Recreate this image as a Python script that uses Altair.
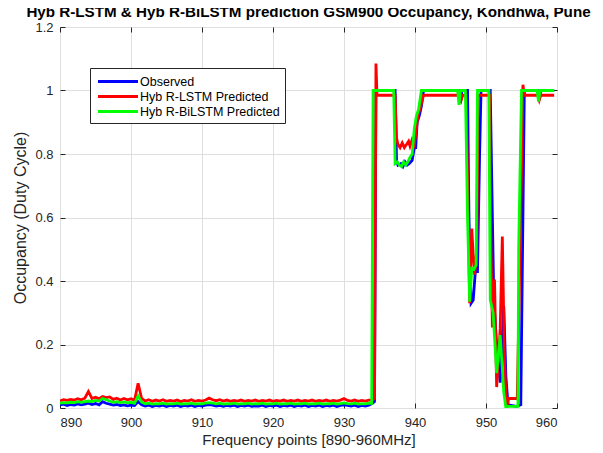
import altair as alt
import pandas as pd

series_names = ["Observed", "Hyb R-LSTM Predicted", "Hyb R-BiLSTM Predicted"]
series_colors = ["#0000FF", "#FF0000", "#00FF00"]

x_ticks = [890, 900, 910, 920, 930, 940, 950, 960]
y_ticks = [0, 0.2, 0.4, 0.6, 0.8, 1.0, 1.2]

# low-occupancy part, 890.0 .. 933.5 MHz every 0.5
low_freq = [round(890 + 0.5 * i, 1) for i in range(88)]

obs_low = [0.010, 0.012, 0.008, 0.011, 0.009, 0.013, 0.010, 0.012, 0.015, 0.011,
           0.014, 0.010, 0.020, 0.015, 0.012, 0.009, 0.011, 0.008, 0.010, 0.007,
           0.009, 0.008, 0.020, 0.010, 0.006, 0.009, 0.005, 0.008, 0.006, 0.009,
           0.005, 0.008, 0.006, 0.009, 0.005, 0.008, 0.006, 0.009, 0.005, 0.008,
           0.006, 0.009, 0.011, 0.009, 0.006, 0.008, 0.005, 0.008, 0.006, 0.009,
           0.005, 0.008, 0.006, 0.009, 0.005, 0.007, 0.006, 0.009, 0.005, 0.008,
           0.006, 0.009, 0.005, 0.008, 0.006, 0.009, 0.005, 0.008, 0.006, 0.009,
           0.005, 0.008, 0.006, 0.009, 0.005, 0.008, 0.006, 0.009, 0.005, 0.008,
           0.010, 0.008, 0.006, 0.009, 0.005, 0.008, 0.006, 0.009]

lstm_low = [0.022, 0.026, 0.024, 0.027, 0.025, 0.029, 0.026, 0.031, 0.052, 0.030,
            0.034, 0.029, 0.036, 0.033, 0.035, 0.027, 0.031, 0.025, 0.030, 0.026,
            0.029, 0.024, 0.078, 0.030, 0.022, 0.026, 0.021, 0.025, 0.022, 0.026,
            0.021, 0.024, 0.022, 0.025, 0.020, 0.024, 0.022, 0.026, 0.021, 0.024,
            0.022, 0.025, 0.031, 0.026, 0.023, 0.026, 0.022, 0.025, 0.021, 0.024,
            0.022, 0.025, 0.021, 0.024, 0.022, 0.025, 0.021, 0.024, 0.022, 0.025,
            0.021, 0.024, 0.022, 0.025, 0.021, 0.024, 0.022, 0.025, 0.021, 0.024,
            0.022, 0.025, 0.021, 0.024, 0.022, 0.025, 0.021, 0.024, 0.022, 0.025,
            0.030, 0.024, 0.022, 0.025, 0.021, 0.024, 0.022, 0.025]

bilstm_low = [0.015, 0.017, 0.016, 0.018, 0.017, 0.020, 0.018, 0.020, 0.022, 0.020,
              0.024, 0.022, 0.030, 0.026, 0.022, 0.018, 0.020, 0.017, 0.019, 0.016,
              0.018, 0.015, 0.038, 0.018, 0.013, 0.015, 0.012, 0.014, 0.013, 0.015,
              0.012, 0.014, 0.013, 0.015, 0.012, 0.014, 0.013, 0.015, 0.012, 0.014,
              0.013, 0.015, 0.017, 0.015, 0.013, 0.015, 0.012, 0.014, 0.013, 0.015,
              0.012, 0.014, 0.013, 0.015, 0.012, 0.014, 0.013, 0.015, 0.012, 0.014,
              0.013, 0.015, 0.012, 0.014, 0.013, 0.015, 0.012, 0.014, 0.013, 0.015,
              0.012, 0.014, 0.013, 0.015, 0.012, 0.014, 0.013, 0.015, 0.012, 0.014,
              0.016, 0.014, 0.013, 0.015, 0.012, 0.014, 0.013, 0.015]

# active part (934 .. 960 MHz)
obs_hi_freq = [934.0, 934.3, 934.5, 937.2, 937.4, 937.6, 938.0, 938.3, 938.6, 938.9,
               939.2, 939.6, 939.9, 940.1, 940.3, 940.6, 940.9, 941.2, 946.2, 946.4,
               946.6, 947.4, 947.6, 947.9, 948.2, 948.5, 948.8, 949.1, 949.3, 950.6,
               950.9, 951.1, 951.5, 952.0, 952.5, 952.8, 953.1, 954.3, 954.9, 955.4,
               957.3, 957.5, 957.7, 959.6]
obs_hi_val = [0.015, 0.020, 1.000, 1.000, 0.780, 0.765, 0.770, 0.760, 0.775, 0.765,
              0.770, 0.780, 0.820, 0.820, 0.900, 0.920, 0.950, 1.000, 1.000, 0.960,
              1.000, 1.000, 0.600, 0.330, 0.340, 0.430, 0.430, 0.800, 1.000, 1.000,
              0.600, 0.340, 0.200, 0.080, 0.320, 0.100, 0.010, 0.005, 0.010, 1.000,
              1.000, 0.970, 1.000, 1.000]

lstm_hi_freq = [934.0, 934.3, 934.5, 934.65, 937.2, 937.4, 937.6, 937.9, 938.2, 938.5,
                938.8, 939.1, 939.3, 939.6, 939.9, 940.1, 940.4, 940.8, 941.2, 946.3,
                946.5, 946.7, 947.2, 947.5, 947.7, 948.0, 948.2, 948.4, 948.7, 948.9,
                950.5, 950.7, 950.9, 951.2, 951.5, 952.0, 952.3, 952.6, 952.9, 953.2,
                954.4, 954.8, 955.2, 955.4, 957.3, 957.5, 957.7, 959.6]
lstm_hi_val = [0.025, 0.030, 1.085, 0.985, 0.985, 0.850, 0.830, 0.820, 0.835, 0.820,
               0.830, 0.840, 0.825, 0.845, 0.830, 0.860, 0.920, 0.950, 0.985, 0.985,
               0.970, 0.985, 0.985, 0.600, 0.330, 0.565, 0.480, 0.420, 0.500, 0.985,
               0.985, 0.500, 0.254, 0.405, 0.066, 0.250, 0.540, 0.150, 0.000, 0.030,
               0.030, 0.500, 1.018, 0.985, 0.985, 0.970, 0.985, 0.985]

bilstm_hi_freq = [933.9, 934.1, 937.0, 937.2, 937.5, 937.8, 938.1, 938.4, 938.7, 939.0,
                  939.3, 939.6, 939.9, 940.2, 940.5, 940.9, 946.0, 946.2, 946.4, 947.1,
                  947.4, 947.7, 948.0, 948.3, 948.6, 948.8, 950.4, 950.6, 951.0, 951.5,
                  952.0, 952.5, 952.8, 953.1, 954.5, 954.6, 955.0, 957.2, 957.4, 957.6,
                  959.6]
bilstm_hi_val = [0.015, 1.000, 1.000, 0.770, 0.775, 0.765, 0.760, 0.775, 0.765, 0.775,
                 0.790, 0.800, 0.880, 0.920, 0.940, 1.000, 1.000, 0.955, 1.000, 1.000,
                 0.600, 0.335, 0.440, 0.437, 0.450, 1.000, 1.000, 0.340, 0.300, 0.110,
                 0.230, 0.050, 0.000, 0.005, 0.005, 0.500, 1.000, 1.000, 0.965, 1.000,
                 1.000]

rows = []
for name, lo, hf, hv in [
    (series_names[0], obs_low, obs_hi_freq, obs_hi_val),
    (series_names[1], lstm_low, lstm_hi_freq, lstm_hi_val),
    (series_names[2], bilstm_low, bilstm_hi_freq, bilstm_hi_val),
]:
    for f, v in zip(low_freq, lo):
        rows.append({"series": name, "freq": f, "occ": v})
    for f, v in zip(hf, hv):
        rows.append({"series": name, "freq": f, "occ": v})
df = pd.DataFrame(rows)

TXT = "#262626"
FONT = "Liberation Sans"
xs = alt.Scale(domain=[890, 960], nice=False, zero=False)
ys = alt.Scale(domain=[0, 1.2], nice=False, zero=False)

lines = alt.Chart(df).mark_line(strokeWidth=2.8, clip=True).encode(
    x=alt.X("freq:Q", scale=xs, title="Frequency points [890-960MHz]",
            axis=alt.Axis(values=x_ticks, grid=True, gridColor="#dfdfdf", tickSize=0,
                          domain=False, labelFontSize=13, labelColor=TXT, labelFont=FONT,
                          labelPadding=8, titleFontSize=15, titleFontWeight="normal",
                          titleColor=TXT, titleFont=FONT, titlePadding=3, format="d")),
    y=alt.Y("occ:Q", scale=ys, title="Occupancy (Duty Cycle)",
            axis=alt.Axis(values=y_ticks, grid=True, gridColor="#dfdfdf", tickSize=0,
                          domain=False, labelFontSize=13, labelColor=TXT, labelFont=FONT,
                          labelPadding=7, titleFontSize=16, titleFontWeight="normal",
                          titleColor=TXT, titleFont=FONT, titlePadding=6, format="~g")),
    color=alt.Color("series:N",
                    scale=alt.Scale(domain=series_names, range=series_colors),
                    sort=series_names,
                    legend=alt.Legend(orient="none", legendX=30, legendY=41, title=None,
                                      symbolType="M-2.857,0H2.857", symbolStrokeWidth=3,
                                      symbolSize=196, symbolOffset=14.5, labelOffset=13.5,
                                      labelFontSize=12.5, labelFont=FONT,
                                      labelColor="#000000", padding=5, rowPadding=-1,
                                      strokeColor=TXT, fillColor="white",
                                      labelLimit=300)),
)

def tick_layer(xorient, yorient):
    return alt.Chart(df).mark_line(opacity=0).encode(
        x=alt.X("freq:Q", scale=xs, title=None,
                axis=alt.Axis(orient=xorient, values=x_ticks, labels=False, grid=False,
                              domain=False, tickSize=5, tickColor=TXT, offset=-5)),
        y=alt.Y("occ:Q", scale=ys, title=None,
                axis=alt.Axis(orient=yorient, values=y_ticks, labels=False, grid=False,
                              domain=False, tickSize=5, tickColor=TXT, offset=-5)),
    )

chart = alt.layer(lines, tick_layer("bottom", "left"), tick_layer("top", "right")).resolve_axis(
    x="independent", y="independent"
).properties(
    width=497,
    height=381,
    title=alt.TitleParams("Hyb R-LSTM & Hyb R-BiLSTM prediction GSM900 Occupancy, Kondhwa, Pune",
                          fontSize=15.2, fontWeight="bold", font=FONT, color="#000000",
                          anchor="middle", frame="group", baseline="alphabetic",
                          offset=0, dx=0, dy=11.5),
    autosize=alt.AutoSizeParams(type="none"),
    padding={"left": 52, "top": 19, "right": 36, "bottom": 45},
).configure_view(stroke=TXT, strokeWidth=1).configure(background="white")

chart.save("out.html", embed_options={"renderer": "svg", "actions": False})
